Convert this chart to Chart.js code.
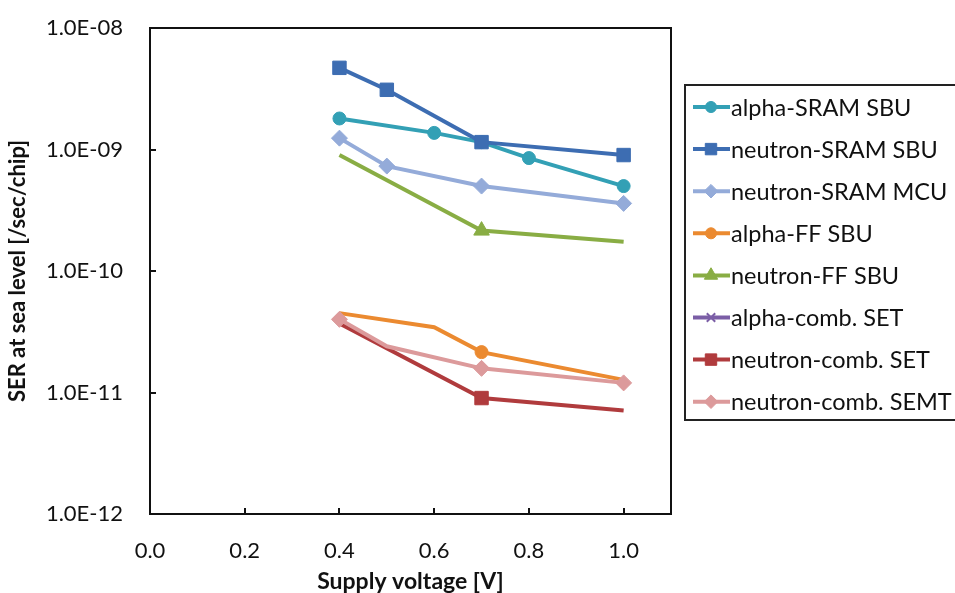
<!DOCTYPE html>
<html>
<head>
<meta charset="utf-8">
<title>SER vs supply voltage</title>
<script src="https://cdn.jsdelivr.net/npm/chart.js@4.4.1/dist/chart.umd.min.js"></script>
<style>
  body { margin: 0; background: #fff; }
  canvas { display: block; }
</style>
</head>
<body>
<canvas id="serChart" width="955" height="593"></canvas>
<script>
const seriesNames = [
  "alpha-SRAM SBU",
  "neutron-SRAM SBU",
  "neutron-SRAM MCU",
  "alpha-FF SBU",
  "neutron-FF SBU",
  "alpha-comb. SET",
  "neutron-comb. SET",
  "neutron-comb. SEMT",
]

// supply voltage [V] per series, and the SER
const vAlphaSram = [0.4, 0.6, 0.7, 0.8, 1.0]
const serAlphaSram = [1.8e-9, 1.37e-9, 1.15e-9, 8.5e-10, 5.0e-10]

const vNeutronSram = [0.4, 0.5, 0.7, 1.0]
const serNeutronSram = [4.7e-9, 3.1e-9, 1.15e-9, 9.0e-10]

const vNeutronMcu = [0.4, 0.5, 0.7, 1.0]
const serNeutronMcu = [1.24e-9, 7.3e-10, 5.0e-10, 3.6e-10]

const vAlphaFF = [0.4, 0.6, 0.7, 1.0]
const serAlphaFF = [4.5e-11, 3.45e-11, 2.15e-11, 1.27e-11]

const vNeutronFF = [0.4, 0.7, 1.0]
const serNeutronFF = [9.0e-10, 2.15e-10, 1.74e-10]

const vAlphaComb = []
const serAlphaComb = []

const vNeutronCombSet = [0.4, 0.7, 1.0]
const serNeutronCombSet = [3.7e-11, 9.0e-12, 7.1e-12]

const vNeutronSemt = [0.4, 0.5, 0.7, 1.0]
const serNeutronSemt = [4.0e-11, 2.4e-11, 1.58e-11, 1.2e-11]

const xTickValues = [0, 0.2, 0.4, 0.6, 0.8, 1.0]
const xTickLabels = ["0.0", "0.2", "0.4", "0.6", "0.8", "1.0"]
const yTickValues = [1e-12, 1e-11, 1e-10, 1e-9, 1e-8]
const yTickLabels = ["1.0E-12", "1.0E-11", "1.0E-10", "1.0E-09", "1.0E-08"]

const FONT = "Lato"
const colors = ["#33a0b5", "#3d6db2", "#94abd9", "#eb8a30", "#89ad44", "#7b5ea6", "#b03b3d", "#dc9a9b"]
const markers = ["circle", "rect", "rectRot", "circle", "triangle", "crossRot", "rect", "rectRot"]
const markerSize = [6.5, 9.5, 8, 6.5, 9, 7, 9.5, 8]

function pts(xs, ys) {
  return xs.map((x, i) => ({ x: x, y: ys[i] }))
}

const seriesData = [
  pts(vAlphaSram, serAlphaSram),
  pts(vNeutronSram, serNeutronSram),
  pts(vNeutronMcu, serNeutronMcu),
  pts(vAlphaFF, serAlphaFF),
  pts(vNeutronFF, serNeutronFF),
  pts(vAlphaComb, serAlphaComb),
  pts(vNeutronCombSet, serNeutronCombSet),
  pts(vNeutronSemt, serNeutronSemt),
]

// only some points carry a visible marker in the original
const markerShown = [
  [1, 1, 1, 1, 1],
  [1, 1, 1, 1],
  [1, 1, 1, 1],
  [0, 0, 1, 0],
  [0, 1, 0],
  [],
  [0, 1, 0],
  [1, 0, 1, 1],
]

const datasets = seriesData.map((data, i) => ({
  label: seriesNames[i],
  data: data,
  borderColor: colors[i],
  backgroundColor: colors[i],
  borderWidth: 4,
  pointStyle: markers[i],
  pointRadius: markerShown[i].map((m) => (m ? markerSize[i] : 0)),
  pointBorderWidth: 1,
  pointBackgroundColor: colors[i],
  pointBorderColor: colors[i],
  tension: 0,
  order: -i,
}))

function drawMarker(ctx, style, r, x, y) {
  ctx.beginPath()
  if (style === "circle") {
    ctx.arc(x, y, r, 0, Math.PI * 2)
  } else if (style === "rect") {
    const s = r * Math.SQRT1_2
    ctx.rect(x - s, y - s, 2 * s, 2 * s)
  } else if (style === "rectRot") {
    ctx.moveTo(x - r, y)
    ctx.lineTo(x, y - r)
    ctx.lineTo(x + r, y)
    ctx.lineTo(x, y + r)
    ctx.closePath()
  } else if (style === "triangle") {
    ctx.moveTo(x, y - r)
    ctx.lineTo(x + r * 0.87, y + r * 0.5)
    ctx.lineTo(x - r * 0.87, y + r * 0.5)
    ctx.closePath()
  } else if (style === "crossRot") {
    const s = r * Math.SQRT1_2
    ctx.moveTo(x - s, y - s)
    ctx.lineTo(x + s, y + s)
    ctx.moveTo(x - s, y + s)
    ctx.lineTo(x + s, y - s)
    ctx.lineWidth = 2
    ctx.stroke()
    return
  }
  ctx.fill()
  ctx.lineWidth = 1
  ctx.stroke()
}

// black frame around the plot and inward tick marks
const framePlugin = {
  id: "frame",
  afterDatasetsDraw(chart) {
    const { ctx, chartArea: a, scales } = chart
    ctx.save()
    ctx.strokeStyle = "#111"
    ctx.lineWidth = 2
    ctx.strokeRect(a.left, a.top, a.right - a.left, a.bottom - a.top)
    ctx.beginPath()
    scales.x.ticks.forEach((t) => {
      const px = Math.round(scales.x.getPixelForValue(t.value))
      ctx.moveTo(px, a.bottom)
      ctx.lineTo(px, a.bottom - 6)
    })
    scales.y.ticks.forEach((t) => {
      const py = Math.round(scales.y.getPixelForValue(t.value))
      ctx.moveTo(a.left, py)
      ctx.lineTo(a.left + 6, py)
    })
    ctx.stroke()
    ctx.restore()
  },
}

// boxed legend with line + marker samples, to the right of the plot
const legendPlugin = {
  id: "boxLegend",
  afterDraw(chart) {
    const { ctx, chartArea: a } = chart
    const left = a.right + 14
    const top = 85
    const rowH = 42.1
    ctx.save()
    ctx.strokeStyle = "#222"
    ctx.lineWidth = 2
    ctx.strokeRect(left, top, 400, 335)
    chart.data.datasets.forEach((ds, i) => {
      const y = top + 22 + i * rowH
      ctx.strokeStyle = ds.borderColor
      ctx.lineWidth = 4
      ctx.beginPath()
      ctx.moveTo(left + 8, y)
      ctx.lineTo(left + 45, y)
      ctx.stroke()
      ctx.fillStyle = ds.borderColor
      ctx.strokeStyle = ds.borderColor
      drawMarker(ctx, ds.pointStyle, markerSize[i] * 0.85, left + 26, y)
      ctx.fillStyle = "#111"
      ctx.font = "23.5px " + FONT
      ctx.textBaseline = "middle"
      ctx.textAlign = "left"
      ctx.fillText(ds.label, left + 46, y + 1)
    })
    ctx.restore()
  },
}

new Chart(document.getElementById("serChart"), {
  type: "line",
  data: { datasets: datasets },
  options: {
    responsive: false,
    animation: false,
    layout: { autoPadding: false, padding: { top: 28, right: 284, left: 0, bottom: 0 } },
    plugins: {
      legend: { display: false },
      tooltip: { enabled: false },
    },
    scales: {
      x: {
        type: "linear",
        min: 0,
        max: 1.1,
        afterBuildTicks: (scale) => {
          scale.ticks = xTickValues.map((v) => ({ value: v }))
        },
        afterFit: (scale) => {
          scale.height = 79
        },
        grid: { display: false, drawTicks: false },
        border: { display: false },
        ticks: {
          color: "#111",
          font: { family: FONT, size: 22 },
          padding: 24,
          maxRotation: 0,
          callback: (v, i) => xTickLabels[i],
        },
        title: {
          display: true,
          text: "Supply voltage [V]",
          color: "#111",
          font: { family: FONT, size: 23, weight: "bold" },
          padding: { top: 0, bottom: -2 },
        },
      },
      y: {
        type: "logarithmic",
        min: 1e-12,
        max: 1e-8,
        afterBuildTicks: (scale) => {
          scale.ticks = yTickValues.map((v) => ({ value: v }))
        },
        afterFit: (scale) => {
          scale.width = 150
          scale.paddingTop = 0
          scale.paddingBottom = 0
        },
        grid: { display: false, drawTicks: false },
        border: { display: false },
        ticks: {
          color: "#111",
          font: { family: FONT, size: 22 },
          padding: 27,
          callback: (v, i) => yTickLabels[i],
        },
        title: {
          display: true,
          text: "SER at sea level [/sec/chip]",
          color: "#111",
          font: { family: FONT, size: 22, weight: "bold" },
          padding: { top: 5, bottom: 0 },
        },
      },
    },
  },
  plugins: [framePlugin, legendPlugin],
})
</script>
</body>
</html>
